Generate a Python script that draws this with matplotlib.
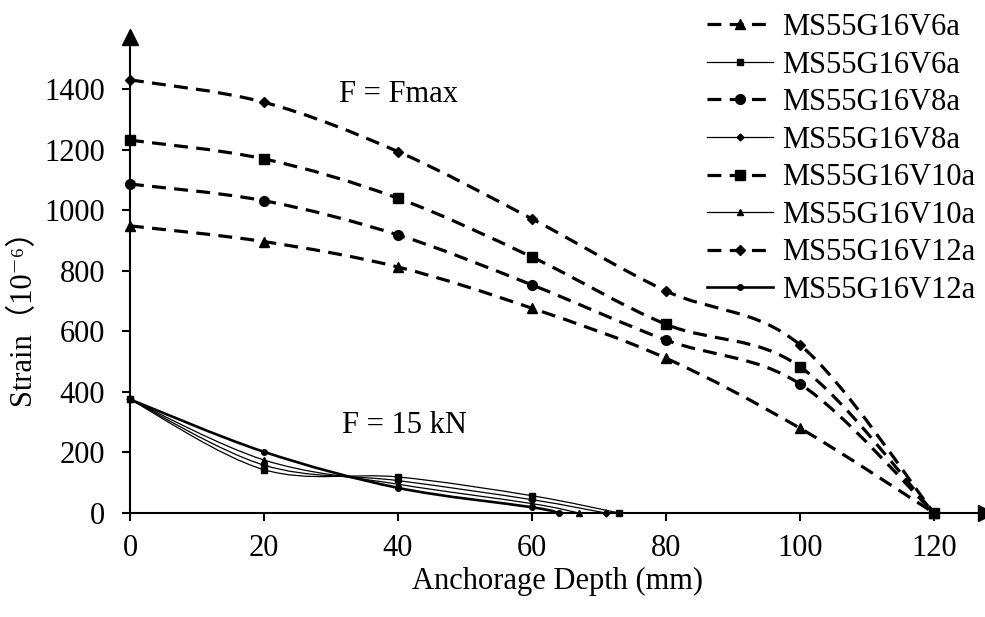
import matplotlib
matplotlib.use("Agg")
import matplotlib.pyplot as plt
from matplotlib.path import Path
from matplotlib.patches import PathPatch
from matplotlib.lines import Line2D
import numpy as np

plt.rcParams['font.family'] = ['Liberation Serif', 'Noto Sans CJK SC', 'DejaVu Serif']
plt.rcParams['lines.scale_dashes'] = False

# ---- data ----
depth_fmax = [0, 20, 40, 60, 80, 100, 120]
fmax_v6 = [948, 896, 812, 676, 511, 280, 0]
fmax_v8 = [1086, 1031, 918, 753, 571, 426, 0]
fmax_v10 = [1231, 1169, 1039, 845, 623, 483, 0]
fmax_v12 = [1430, 1356, 1193, 971, 733, 555, 0]

depth_15_v6 = [0, 20, 40, 60, 73]
f15_v6 = [375, 143, 119, 57, 0]
depth_15_v8 = [0, 20, 40, 60, 71]
f15_v8 = [375, 158, 107, 44, 0]
depth_15_v10 = [0, 20, 40, 60, 67]
f15_v10 = [375, 175, 95, 31, 0]
depth_15_v12 = [0, 20, 40, 60, 64]
f15_v12 = [375, 202, 83, 19, 0]

xticks = [0, 20, 40, 60, 80, 100, 120]
yticks = [0, 200, 400, 600, 800, 1000, 1200, 1400]

W, H = 985, 617
fig = plt.figure(figsize=(W / 100, H / 100), dpi=100)
left_px, right_px, top_px, bot_px = 130, 986, 37, 513
ax = fig.add_axes([left_px / W, 1 - bot_px / H, (right_px - left_px) / W, (bot_px - top_px) / H])
ax.set_xlim(0, (right_px - left_px) / 6.7)
ax.set_ylim(0, (bot_px - top_px) / 0.3029)


def smooth_path(xs, ys, t=1.0 / 6.0):
    P = np.column_stack([xs, ys]).astype(float)
    n = len(P)
    verts = [P[0]]
    codes = [Path.MOVETO]
    for i in range(n - 1):
        pm = P[i - 1] if i > 0 else P[i]
        pp = P[i + 2] if i + 2 < n else P[i + 1]
        c1 = P[i] + (P[i + 1] - pm) * t
        c2 = P[i + 1] - (pp - P[i]) * t
        verts += [c1, c2, P[i + 1]]
        codes += [Path.CURVE4] * 3
    return Path(verts, codes)


dash = (0, (10, 6))
lw_dash = 2.3
series = [
    (depth_fmax, fmax_v6, dash, lw_dash, '^', 7, 'MS55G16V6a'),
    (depth_15_v6, f15_v6, '-', 0.9, 's', 4, 'MS55G16V6a'),
    (depth_fmax, fmax_v8, dash, lw_dash, 'o', 7, 'MS55G16V8a'),
    (depth_15_v8, f15_v8, '-', 0.9, 'D', 3.5, 'MS55G16V8a'),
    (depth_fmax, fmax_v10, dash, lw_dash, 's', 6.5, 'MS55G16V10a'),
    (depth_15_v10, f15_v10, '-', 0.9, '^', 4.5, 'MS55G16V10a'),
    (depth_fmax, fmax_v12, dash, lw_dash, 'D', 5.5, 'MS55G16V12a'),
    (depth_15_v12, f15_v12, '-', 1.9, 'o', 4, 'MS55G16V12a'),
]

handles = []
for xs, ys, ls, lw, mk, ms, lab in series:
    patch = PathPatch(smooth_path(xs, ys), facecolor='none', edgecolor='black',
                      linewidth=lw, linestyle=ls, capstyle='butt', clip_on=False, zorder=3)
    ax.add_patch(patch)
    ax.plot(xs, ys, linestyle='none', marker=mk, markersize=ms, color='black',
            clip_on=False, zorder=4)
    handles.append(Line2D([], [], color='black', linewidth=lw, linestyle=ls,
                          marker=mk, markersize=ms, dash_capstyle='butt', label=lab))

# axes styling
for s in ['top', 'right']:
    ax.spines[s].set_visible(False)
for s in ['left', 'bottom']:
    ax.spines[s].set_linewidth(1.5)
ax.set_xticks(xticks)
ax.set_yticks(yticks)
ax.tick_params(axis='both', direction='out', length=6, width=1.5, labelsize=22)
ax.tick_params(axis='x', pad=9)
ax.tick_params(axis='y', pad=12)

# arrow heads
ax.plot([0], [1], marker='^', markersize=11, color='black', transform=ax.transAxes,
        clip_on=False, zorder=5)
ax.plot([1], [0], marker='>', markersize=11, color='black', transform=ax.transAxes,
        clip_on=False, zorder=5)

ax.set_xlabel('Anchorage Depth (mm)', fontsize=22, labelpad=3)
ax.set_ylabel('Strain（10⁻⁶）', fontsize=22)
ax.yaxis.set_label_coords((37 - left_px) / (right_px - left_px), (bot_px - 310) / (bot_px - top_px))

ax.text(40, 1380, 'F = Fmax', fontsize=22, ha='center', va='center')
ax.text(41, 290, 'F = 15 kN', fontsize=22, ha='center', va='center')

fig.legend(handles=handles, loc='upper left', bbox_to_anchor=(707 / W, 1 - 13 / H),
           bbox_transform=fig.transFigure, frameon=False, fontsize=22,
           borderpad=0, borderaxespad=0, labelspacing=0.28, handlelength=2.15,
           handletextpad=0.3)

fig.savefig('out.png', dpi=100)
